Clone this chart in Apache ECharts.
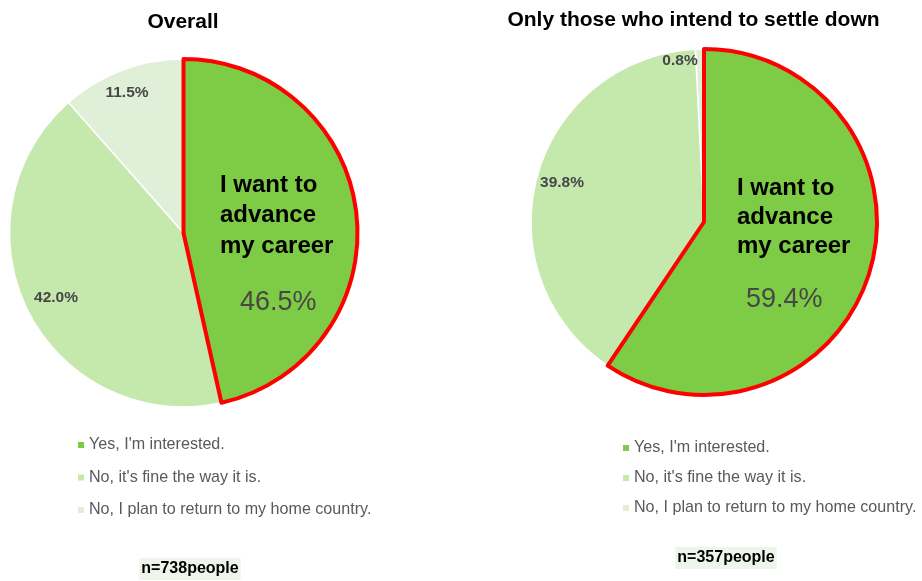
<!DOCTYPE html>
<html>
<head>
<meta charset="utf-8">
<script src="https://cdn.jsdelivr.net/npm/echarts@6/dist/echarts.min.js"></script>
<style>
  html, body { margin: 0; padding: 0; background: #fff; }
  #chart { width: 922px; height: 581px; }
</style>
</head>
<body>
<div id="chart"></div>
<script>
// Answer categories (legend order, clockwise from 12 o'clock)
const categories = [
  "Yes, I'm interested.",
  "No, it's fine the way it is.",
  "No, I plan to return to my home country."
];
// Share of respondents, %
const overallValues = [46.5, 42.0, 11.5];
const settleValues = [59.4, 39.8, 0.8];
const sliceColors = ['#7ECB45', '#C5E8AD', '#E0EFD8'];

const titles = ['Overall', 'Only those who intend to settle down'];
const sampleNotes = ['n=738people', 'n=357people'];
const highlightCaption = 'I want to\nadvance\nmy career';

const FONT = '"Liberation Sans", Arial, sans-serif';

// Pie geometry and label placement for each panel
const panels = [
  {
    values: overallValues,
    center: [183.5, 233], radius: 174,
    capLine: 30.5, valLine: 83, valPad: 20,
    bigLabel: [220, 170],
    smallLabels: { 1: [56, 298], 2: [127, 93] }
  },
  {
    values: settleValues,
    center: [704, 222], radius: 173,
    capLine: 29, valLine: 79, valPad: 9,
    bigLabel: [737, 173.5],
    smallLabels: { 1: [562, 183], 2: [680, 61] }
  }
];

function buildSeries(panel) {
  // Drawn counter-clockwise from the top in reverse order so the
  // highlighted slice is painted last and its red outline stays on top.
  const data = panel.values.map((v, i) => ({
    name: categories[i],
    value: v,
    itemStyle: {
      color: sliceColors[i],
      borderColor: i === 0 ? '#FF0000' : '#FFFFFF',
      borderWidth: i === 0 ? 4 : 1.5
    }
  })).reverse();

  return {
    type: 'pie',
    center: panel.center,
    radius: panel.radius,
    startAngle: 90,
    clockwise: false,
    selectedMode: false,
    silent: true,
    animation: false,
    emphasis: { disabled: true },
    label: {
      show: true,
      position: 'inside',
      fontFamily: FONT,
      formatter: function (p) {
        const txt = p.value.toFixed(1) + '%';
        if (p.name === categories[0]) {
          const cap = highlightCaption.split('\n').map(l => '{cap|' + l + '}').join('\n');
          return cap + '\n{val|' + txt + '}';
        }
        return '{small|' + txt + '}';
      },
      rich: {
        cap: {
          fontFamily: FONT, fontSize: 24, fontWeight: 'bold',
          color: '#000000', lineHeight: panel.capLine, align: 'left'
        },
        val: {
          fontFamily: FONT, fontSize: 27, color: '#474747',
          lineHeight: panel.valLine, align: 'left',
          padding: [0, 0, 0, panel.valPad]
        },
        small: {
          fontFamily: FONT, fontSize: 15.5, fontWeight: 'bold',
          color: '#474747', lineHeight: 18
        }
      }
    },
    labelLine: { show: false },
    labelLayout: function (params) {
      const idx = categories.length - 1 - params.dataIndex;
      if (idx === 0) {
        return { x: panel.bigLabel[0], y: panel.bigLabel[1], align: 'left', verticalAlign: 'top' };
      }
      const pos = panel.smallLabels[idx];
      return { x: pos[0], y: pos[1], align: 'center', verticalAlign: 'middle' };
    },
    data: data
  };
}

function buildLegend(left, top, gap) {
  return {
    orient: 'vertical',
    left: left,
    top: top,
    icon: 'rect',
    itemWidth: 6,
    itemHeight: 6,
    itemGap: gap,
    selectedMode: false,
    data: categories,
    itemStyle: { borderWidth: 0 },
    textStyle: { fontFamily: FONT, fontSize: 16.1, color: '#595959', lineHeight: 18 }
  };
}

function textGraphic(text, x, y, size, bg) {
  const style = {
    text: text,
    x: x, y: y,
    align: 'center',
    verticalAlign: 'middle',
    font: 'bold ' + size + 'px ' + FONT,
    fill: '#000000'
  };
  if (bg) {
    style.backgroundColor = bg;
    style.padding = [3, 2, 3, 2];
  }
  return { type: 'text', silent: true, style: style };
}

const chart = echarts.init(document.getElementById('chart'), null, { renderer: 'canvas' });
chart.setOption({
  backgroundColor: '#FFFFFF',
  animation: false,
  legend: [
    buildLegend(73, 431, 14.5),
    buildLegend(618, 434, 12)
  ],
  series: panels.map(buildSeries),
  graphic: [
    textGraphic(titles[0], 183, 22, 21),
    textGraphic(titles[1], 693.5, 20, 21),
    textGraphic(sampleNotes[0], 190, 569, 16, '#EEF5EA'),
    textGraphic(sampleNotes[1], 726, 558, 16, '#EEF5EA')
  ]
});
</script>
</body>
</html>
